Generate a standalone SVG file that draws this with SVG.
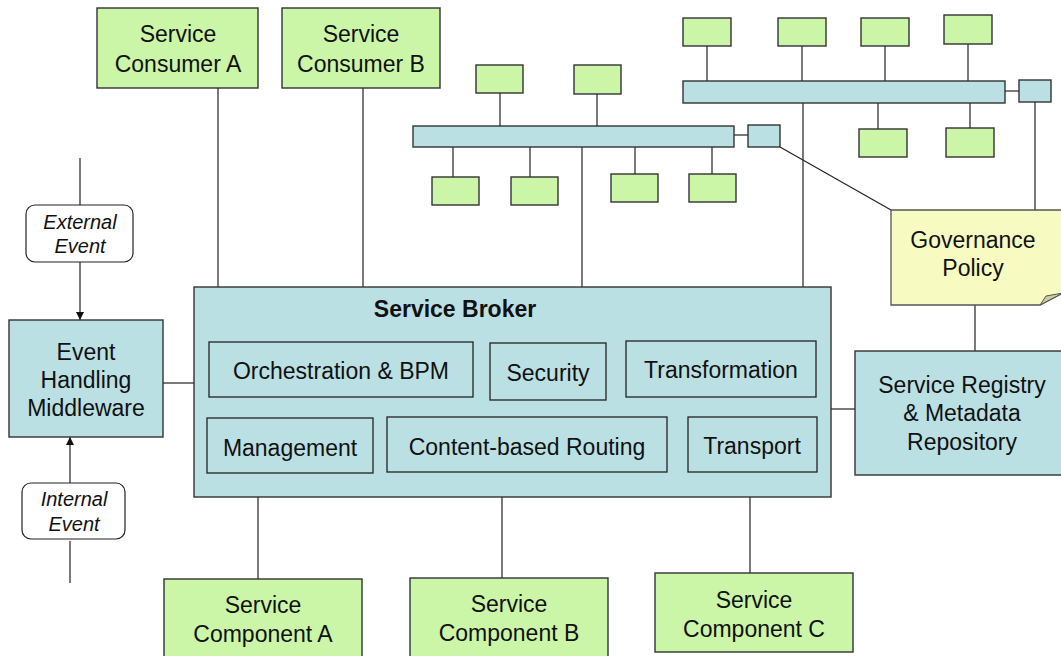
<svg xmlns="http://www.w3.org/2000/svg" width="1061" height="656" viewBox="0 0 1061 656">
  <defs>
    <style>
      .green { fill: #cbf6a8; stroke: #333; stroke-width: 1.4; }
      .blue { fill: #bbe0e3; stroke: #333; stroke-width: 1.4; }
      .inner { fill: none; stroke: #222; stroke-width: 1.3; }
      .event { fill: #fff; stroke: #222; stroke-width: 1.2; }
      .note { fill: #f7fbc2; stroke: #555; stroke-width: 1.3; }
      .lbl { font-family: "Liberation Sans", Arial, sans-serif; font-size: 23px; fill: #111; text-anchor: middle; }
      .bold { font-weight: bold; }
      .ital { font-family: "Liberation Sans", Arial, sans-serif; font-size: 20px; font-style: italic; fill: #111; text-anchor: middle; }
      .wire { stroke: #222; stroke-width: 1.2; fill: none; }
    </style>
    <marker id="arrow" viewBox="0 0 10 10" refX="10" refY="5" markerWidth="8" markerHeight="8" markerUnits="userSpaceOnUse" orient="auto">
      <path d="M0,0 L10,5 L0,10 Z" fill="#111"/>
    </marker>
  </defs>

  <!-- connectors -->
  <g id="connectors">
    <!-- consumers to broker -->
    <line class="wire" x1="218" y1="88" x2="218" y2="287"/>
    <line class="wire" x1="363" y1="88" x2="363" y2="287"/>
    <!-- lower bus taps -->
    <line class="wire" x1="500" y1="93" x2="500" y2="126"/>
    <line class="wire" x1="597" y1="94" x2="597" y2="126"/>
    <line class="wire" x1="453" y1="147" x2="453" y2="177"/>
    <line class="wire" x1="530" y1="147" x2="530" y2="177"/>
    <line class="wire" x1="635" y1="147" x2="635" y2="174"/>
    <line class="wire" x1="712" y1="147" x2="712" y2="174"/>
    <line class="wire" x1="734" y1="135" x2="748" y2="135"/>
    <line class="wire" x1="582" y1="147" x2="582" y2="287"/>
    <!-- upper bus taps -->
    <line class="wire" x1="707" y1="46" x2="707" y2="81"/>
    <line class="wire" x1="802" y1="46" x2="802" y2="81"/>
    <line class="wire" x1="885" y1="46" x2="885" y2="81"/>
    <line class="wire" x1="968" y1="44" x2="968" y2="81"/>
    <line class="wire" x1="878" y1="103" x2="878" y2="129"/>
    <line class="wire" x1="970" y1="103" x2="970" y2="129"/>
    <line class="wire" x1="1005" y1="91" x2="1019" y2="91"/>
    <line class="wire" x1="803" y1="103" x2="803" y2="287"/>
    <!-- hubs to governance policy -->
    <line class="wire" x1="780" y1="147" x2="891" y2="210"/>
    <line class="wire" x1="1035" y1="102" x2="1035" y2="210"/>
    <!-- policy to registry, registry to broker -->
    <line class="wire" x1="975" y1="305" x2="975" y2="351"/>
    <line class="wire" x1="831" y1="409" x2="855" y2="409"/>
    <!-- event handling -->
    <line class="wire" x1="80" y1="158" x2="80" y2="205"/>
    <line class="wire" x1="80" y1="262" x2="80" y2="320" marker-end="url(#arrow)"/>
    <line class="wire" x1="70" y1="483" x2="70" y2="437" marker-end="url(#arrow)"/>
    <line class="wire" x1="70" y1="541" x2="70" y2="583"/>
    <line class="wire" x1="163" y1="383" x2="194" y2="383"/>
    <!-- broker to components -->
    <line class="wire" x1="258" y1="497" x2="258" y2="579"/>
    <line class="wire" x1="502" y1="497" x2="502" y2="578"/>
    <line class="wire" x1="750" y1="497" x2="750" y2="573"/>
  </g>

  <!-- consumers -->
  <g id="consumer-a">
    <rect class="green" x="97" y="8" width="161" height="80"/>
    <text class="lbl" x="178" y="42">Service</text>
    <text class="lbl" x="178" y="72">Consumer A</text>
  </g>
  <g id="consumer-b">
    <rect class="green" x="282" y="8" width="158" height="80"/>
    <text class="lbl" x="361" y="42">Service</text>
    <text class="lbl" x="361" y="72">Consumer B</text>
  </g>

  <!-- lower bus with its services -->
  <g id="bus-lower">
    <rect class="blue" x="413" y="126" width="321" height="21"/>
  </g>
  <g id="hub-lower">
    <rect class="blue" x="748" y="125" width="32" height="22"/>
  </g>
  <g id="bus-lower-services">
    <rect class="green" x="476" y="65" width="47" height="28"/>
    <rect class="green" x="574" y="65" width="47" height="29"/>
    <rect class="green" x="432" y="177" width="47" height="28"/>
    <rect class="green" x="511" y="177" width="47" height="28"/>
    <rect class="green" x="611" y="174" width="47" height="28"/>
    <rect class="green" x="689" y="174" width="47" height="28"/>
  </g>

  <!-- upper bus with its services -->
  <g id="bus-upper">
    <rect class="blue" x="683" y="81" width="322" height="22"/>
  </g>
  <g id="hub-upper">
    <rect class="blue" x="1019" y="80" width="32" height="22"/>
  </g>
  <g id="bus-upper-services">
    <rect class="green" x="683" y="18" width="48" height="28"/>
    <rect class="green" x="778" y="18" width="48" height="28"/>
    <rect class="green" x="861" y="18" width="48" height="28"/>
    <rect class="green" x="944" y="15" width="48" height="29"/>
    <rect class="green" x="859" y="129" width="48" height="28"/>
    <rect class="green" x="946" y="128" width="48" height="29"/>
  </g>

  <!-- governance policy note with folded corner -->
  <g id="governance-policy">
    <path class="note" d="M891,210 H1063 V293 L1040,305 H891 Z"/>
    <path d="M1040,305 L1046,296 L1063,293 Z" fill="#c9cb9c" stroke="#555" stroke-width="1"/>
    <text class="lbl" x="973" y="248">Governance</text>
    <text class="lbl" x="973" y="276">Policy</text>
  </g>

  <!-- registry -->
  <g id="service-registry">
    <rect class="blue" x="855" y="351" width="210" height="124"/>
    <text class="lbl" x="962" y="393">Service Registry</text>
    <text class="lbl" x="962" y="421">&amp; Metadata</text>
    <text class="lbl" x="962" y="450">Repository</text>
  </g>

  <!-- broker and its capabilities -->
  <g id="service-broker">
    <rect class="blue" x="194" y="287" width="637" height="210"/>
    <text class="lbl bold" x="455" y="317">Service Broker</text>
    <g id="orchestration">
      <rect class="inner" x="209" y="342" width="264" height="55"/>
      <text class="lbl" x="341" y="379">Orchestration &amp; BPM</text>
    </g>
    <g id="security">
      <rect class="inner" x="490" y="343" width="116" height="57"/>
      <text class="lbl" x="548" y="381">Security</text>
    </g>
    <g id="transformation">
      <rect class="inner" x="626" y="341" width="190" height="56"/>
      <text class="lbl" x="721" y="378">Transformation</text>
    </g>
    <g id="management">
      <rect class="inner" x="207" y="418" width="166" height="55"/>
      <text class="lbl" x="290" y="456">Management</text>
    </g>
    <g id="routing">
      <rect class="inner" x="387" y="417" width="280" height="55"/>
      <text class="lbl" x="527" y="455">Content-based Routing</text>
    </g>
    <g id="transport">
      <rect class="inner" x="688" y="417" width="129" height="55"/>
      <text class="lbl" x="752" y="454">Transport</text>
    </g>
  </g>

  <!-- event handling -->
  <g id="event-middleware">
    <rect class="blue" x="9" y="320" width="154" height="117"/>
    <text class="lbl" x="86" y="360">Event</text>
    <text class="lbl" x="86" y="388">Handling</text>
    <text class="lbl" x="86" y="416">Middleware</text>
  </g>
  <g id="external-event">
    <rect class="event" x="26" y="205" width="107" height="57" rx="9"/>
    <text class="ital" x="80" y="229">External</text>
    <text class="ital" x="80" y="253">Event</text>
  </g>
  <g id="internal-event">
    <rect class="event" x="22" y="483" width="103" height="56" rx="9"/>
    <text class="ital" x="74" y="506">Internal</text>
    <text class="ital" x="74" y="531">Event</text>
  </g>

  <!-- components -->
  <g id="component-a">
    <rect class="green" x="164" y="579" width="198" height="82"/>
    <text class="lbl" x="263" y="613">Service</text>
    <text class="lbl" x="263" y="642">Component A</text>
  </g>
  <g id="component-b">
    <rect class="green" x="410" y="578" width="198" height="82"/>
    <text class="lbl" x="509" y="612">Service</text>
    <text class="lbl" x="509" y="641">Component B</text>
  </g>
  <g id="component-c">
    <rect class="green" x="655" y="573" width="198" height="79"/>
    <text class="lbl" x="754" y="608">Service</text>
    <text class="lbl" x="754" y="637">Component C</text>
  </g>
</svg>
